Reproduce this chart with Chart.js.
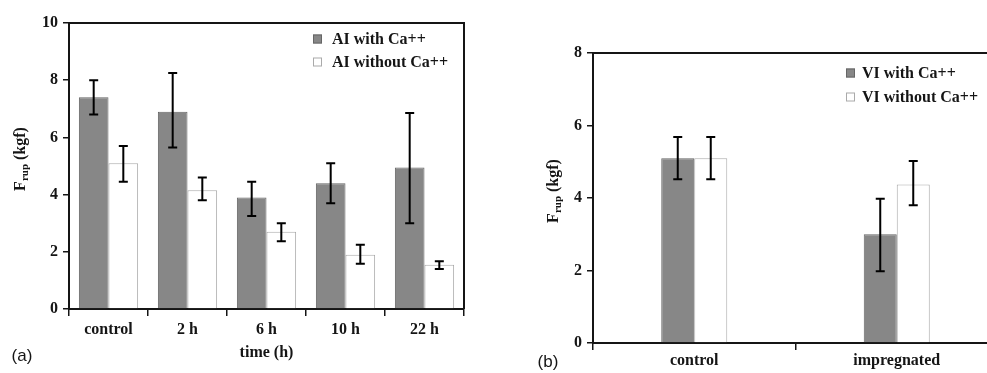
<!DOCTYPE html>
<html>
<head>
<meta charset="utf-8">
<script src="https://cdn.jsdelivr.net/npm/chart.js@4.4.1/dist/chart.umd.min.js"></script>
<style>
  html, body { margin: 0; padding: 0; background: #fff; overflow: hidden; width: 987px; height: 373px; }
  canvas { position: absolute; top: 0; }
  #chartA { left: 0; }
  #chartB { left: 500px; }
</style>
</head>
<body>
<canvas id="chartA" width="480" height="373"></canvas>
<canvas id="chartB" width="510" height="373"></canvas>
<script>
// (a) time series
const timeLabels = ['control', '2 h', '6 h', '10 h', '22 h'];
const aiWithCa = [7.4, 6.9, 3.9, 4.4, 4.95];
const aiWithCaHi = [8.0, 8.25, 4.45, 5.1, 6.85];
const aiWithCaLo = [6.8, 5.65, 3.25, 3.7, 3.0];
const aiWithoutCa = [5.1, 4.15, 2.7, 1.9, 1.55];
const aiWithoutCaHi = [5.7, 4.6, 3.0, 2.25, 1.67];
const aiWithoutCaLo = [4.45, 3.8, 2.37, 1.58, 1.4];

// (b) treatment
const treatLabels = ['control', 'impregnated'];
const viWithCa = [5.1, 3.0];
const viWithCaHi = [5.68, 3.98];
const viWithCaLo = [4.52, 1.98];
const viWithoutCa = [5.1, 4.37];
const viWithoutCaHi = [5.68, 5.02];
const viWithoutCaLo = [4.52, 3.8];

const GRAY = '#878787';
const GRAY_EDGE = '#666';
const WHITE_EDGE = '#aaa';
const INK = '#151515';
const SERIF = '"Liberation Serif", "Times New Roman", serif';

Chart.defaults.font.family = SERIF;
Chart.defaults.font.weight = 'bold';
Chart.defaults.font.size = 16;
Chart.defaults.color = INK;

// error bars, frame, legend and extra labels
const extras = {
  id: 'extras',
  afterDatasetsDraw(chart, args, opts) {
    const ctx = chart.ctx;
    const y = chart.scales.y;
    const ca = chart.chartArea;
    ctx.save();

    // error bars
    ctx.strokeStyle = '#000';
    ctx.lineWidth = 2;
    chart.data.datasets.forEach((ds, i) => {
      const meta = chart.getDatasetMeta(i);
      meta.data.forEach((bar, j) => {
        const top = y.getPixelForValue(ds.errHi[j]);
        const bot = y.getPixelForValue(ds.errLo[j]);
        ctx.beginPath();
        ctx.moveTo(bar.x, top); ctx.lineTo(bar.x, bot);
        ctx.moveTo(bar.x - 4.5, top); ctx.lineTo(bar.x + 4.5, top);
        ctx.moveTo(bar.x - 4.5, bot); ctx.lineTo(bar.x + 4.5, bot);
        ctx.stroke();
      });
    });

    // top / right frame
    ctx.strokeStyle = INK;
    ctx.lineWidth = 2;
    ctx.beginPath();
    ctx.moveTo(ca.left, ca.top); ctx.lineTo(ca.right, ca.top); ctx.lineTo(ca.right, ca.bottom);
    ctx.stroke();

    // legend
    ctx.font = 'bold 16px ' + SERIF;
    ctx.textBaseline = 'middle';
    ctx.textAlign = 'left';
    chart.data.datasets.forEach((ds, i) => {
      const ly = ca.top + opts.legendTop + i * opts.legendGap;
      const lx = ca.right - opts.legendRight;
      ctx.fillStyle = ds.backgroundColor;
      ctx.strokeStyle = ds.borderColor;
      ctx.lineWidth = 1;
      ctx.fillRect(lx, ly - 4.5, 9, 9);
      ctx.strokeRect(lx + 0.5, ly - 4, 8, 8);
      ctx.fillStyle = INK;
      ctx.fillText(ds.label, lx + opts.legendTextGap, ly + 1);
    });

    // y title with subscript
    ctx.save();
    ctx.translate(ca.left - opts.yTitleOffset, (ca.top + ca.bottom) / 2 - 7);
    ctx.rotate(-Math.PI / 2);
    ctx.textBaseline = 'alphabetic';
    ctx.font = 'bold 16px ' + SERIF;
    const fW = ctx.measureText('F').width;
    ctx.font = 'bold 11px ' + SERIF;
    const subW = ctx.measureText('rup').width;
    ctx.font = 'bold 16px ' + SERIF;
    const restW = ctx.measureText(' (kgf)').width;
    const x0 = -(fW + subW + restW) / 2;
    ctx.fillText('F', x0, 5);
    ctx.font = 'bold 11px ' + SERIF;
    ctx.fillText('rup', x0 + fW, 8);
    ctx.font = 'bold 16px ' + SERIF;
    ctx.fillText(' (kgf)', x0 + fW + subW, 5);
    ctx.restore();

    // panel letter
    ctx.font = '17px "Liberation Sans", Arial, sans-serif';
    ctx.textAlign = 'center';
    ctx.textBaseline = 'middle';
    ctx.fillStyle = INK;
    ctx.fillText(opts.panel, opts.panelX, opts.panelY);

    ctx.restore();
  }
};

function makeChart(id, labels, sets, yMax, box) {
  return new Chart(document.getElementById(id), {
    type: 'bar',
    data: {
      labels: labels,
      datasets: sets.map((s, i) => ({
        label: s.label,
        data: s.data,
        errHi: s.hi,
        errLo: s.lo,
        backgroundColor: i === 0 ? GRAY : '#ffffff',
        borderColor: i === 0 ? GRAY_EDGE : WHITE_EDGE,
        borderWidth: 1,
        categoryPercentage: box.catPct,
        barPercentage: 1.0
      }))
    },
    options: {
      responsive: false,
      animation: false,
      devicePixelRatio: 1,
      layout: { padding: { top: box.top, right: box.right, left: 0, bottom: 0 } },
      plugins: {
        legend: { display: false },
        tooltip: { enabled: false },
        extras: box.extras
      },
      scales: {
        x: {
          grid: { display: true, drawOnChartArea: false, drawTicks: true, tickLength: 7, color: INK, lineWidth: 1.5, offset: true },
          border: { display: true, color: INK, width: 2 },
          ticks: { padding: box.xPad, font: { size: 16, weight: 'bold' }, color: INK },
          title: box.xTitle ? { display: true, text: box.xTitle, font: { size: 16, weight: 'bold' }, color: INK, padding: { top: 0, bottom: 11 } } : { display: false },
          afterFit(scale) { scale.height = box.xHeight; }
        },
        y: {
          min: 0,
          max: yMax,
          ticks: { stepSize: 2, padding: 5, font: { size: 16, weight: 'bold' }, color: INK },
          grid: { display: true, drawOnChartArea: false, drawTicks: true, tickLength: 6, color: INK, lineWidth: 1.5 },
          border: { display: true, color: INK, width: 2 },
          afterFit(scale) { scale.width = box.yWidth; }
        }
      }
    },
    plugins: [extras]
  });
}

makeChart('chartA', timeLabels, [
  { label: 'AI with Ca++', data: aiWithCa, hi: aiWithCaHi, lo: aiWithCaLo },
  { label: 'AI without Ca++', data: aiWithoutCa, hi: aiWithoutCaHi, lo: aiWithoutCaLo }
], 10, {
  top: 23, right: 16, yWidth: 69, xHeight: 64, xPad: 4, catPct: 0.75,
  xTitle: 'time (h)',
  extras: { legendTop: 16, legendGap: 23, legendRight: 151, legendTextGap: 19, yTitleOffset: 49, panel: '(a)', panelX: 22, panelY: 356 }
});

makeChart('chartB', treatLabels, [
  { label: 'VI with Ca++', data: viWithCa, hi: viWithCaHi, lo: viWithCaLo },
  { label: 'VI without Ca++', data: viWithoutCa, hi: viWithoutCaHi, lo: viWithoutCaLo }
], 8, {
  top: 53, right: 12, yWidth: 93, xHeight: 30, xPad: 1, catPct: 0.326,
  xTitle: null,
  extras: { legendTop: 20, legendGap: 24, legendRight: 152, legendTextGap: 16, yTitleOffset: 40, panel: '(b)', panelX: 48, panelY: 362 }
});
</script>
</body>
</html>
